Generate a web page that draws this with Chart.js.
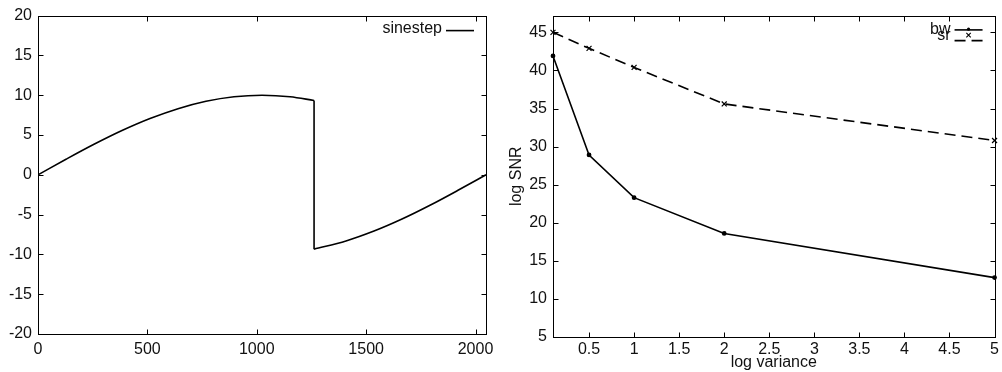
<!DOCTYPE html>
<html>
<head>
<meta charset="utf-8">
<script src="https://cdn.jsdelivr.net/npm/chart.js@4.4.1/dist/chart.umd.min.js"></script>
<style>
  body { margin: 0; background: #fff; }
  #wrap { position: relative; width: 1002px; height: 372px; }
  canvas { position: absolute; top: 0; }
</style>
</head>
<body>
<div id="wrap">
  <canvas id="sineChart" width="500" height="372" style="left:0"></canvas>
  <canvas id="snrChart" width="502" height="372" style="left:500px"></canvas>
</div>
<script>
// left panel - sinestep, split at the step
const riseX = [0, 128, 256, 384, 512, 640, 768, 896, 1024, 1152, 1262];
const riseY = [0, 1.95, 3.83, 5.56, 7.07, 8.31, 9.24, 9.81, 10.0, 9.81, 9.34];
const stepX = [1262, 1262];
const stepY = [9.34, -9.34];
const fallX = [1262, 1408, 1536, 1664, 1792, 1920, 2048];
const fallY = [-9.34, -8.31, -7.07, -5.56, -3.83, -1.95, 0];
const sineXTicks = [0, 500, 1000, 1500, 2000];
const sineYTicks = [-20, -15, -10, -5, 0, 5, 10, 15, 20];

// right panel - log SNR vs log variance
const variance = [0.1, 0.5, 1, 2, 5];
const bwSNR = [41.9, 28.9, 23.3, 18.6, 12.8];
const srSNR = [45.0, 42.9, 40.4, 35.6, 30.8];
const varTicks = [0.5, 1, 1.5, 2, 2.5, 3, 3.5, 4, 4.5, 5];
const snrTicks = [5, 10, 15, 20, 25, 30, 35, 40, 45];

Chart.defaults.font.family = "'Liberation Sans', Arial, sans-serif";
Chart.defaults.font.size = 16;
Chart.defaults.color = "#111";
Chart.defaults.animation = false;

const toPoints = (xs, ys) => xs.map((x, i) => ({ x: x, y: ys[i] }));
const setTicks = vals => axis => { axis.ticks = vals.map(v => ({ value: v })); };

// gnuplot look: box, inward ticks on all sides, legend at top right
const gnuFrame = {
  id: "gnuFrame",
  afterDraw(chart, args, opts) {
    const ctx = chart.ctx;
    const a = chart.chartArea;
    const xs = chart.scales.x, ys = chart.scales.y;
    const L = Math.round(a.left) + 0.5, R = Math.round(a.right) + 0.5;
    const T = Math.round(a.top) + 0.5, B = Math.round(a.bottom) + 0.5;
    ctx.save();
    ctx.strokeStyle = "#000";
    ctx.lineWidth = 1;
    ctx.setLineDash([]);
    ctx.strokeRect(L, T, R - L, B - T);
    const tl = 5;
    ctx.beginPath();
    opts.xTicks.forEach(v => {
      const px = Math.round(xs.getPixelForValue(v)) + 0.5;
      ctx.moveTo(px, B); ctx.lineTo(px, B - tl);
      ctx.moveTo(px, T); ctx.lineTo(px, T + tl);
    });
    opts.yTicks.forEach(v => {
      const py = Math.round(ys.getPixelForValue(v)) + 0.5;
      ctx.moveTo(L, py); ctx.lineTo(L + tl, py);
      ctx.moveTo(R, py); ctx.lineTo(R - tl, py);
    });
    ctx.stroke();

    // legend
    ctx.font = "16px 'Liberation Sans', Arial, sans-serif";
    ctx.textAlign = "right";
    ctx.textBaseline = "alphabetic";
    chart.data.datasets.filter(ds => ds.label).forEach((ds, i) => {
      const e = opts.entries[i];
      const x0 = a.right - 40, x1 = a.right - 12;
      ctx.fillStyle = "#111";
      ctx.fillText(ds.label, a.right - 44, a.top + e.text);
      ctx.strokeStyle = ds.borderColor;
      ctx.lineWidth = ds.borderWidth;
      ctx.setLineDash(ds.borderDash || []);
      ctx.beginPath();
      ctx.moveTo(x0, a.top + e.line);
      ctx.lineTo(x1, a.top + e.line);
      ctx.stroke();
      ctx.setLineDash([]);
      const mx = (x0 + x1) / 2, my = a.top + e.mark;
      if (ds.pointStyle === "circle" && ds.pointRadius > 0) {
        ctx.fillStyle = ds.borderColor;
        ctx.beginPath(); ctx.arc(mx, my, ds.pointRadius, 0, Math.PI * 2); ctx.fill();
      } else if (ds.pointStyle === "crossRot") {
        const r = 2.2;
        ctx.lineWidth = 1.1;
        ctx.beginPath();
        ctx.moveTo(mx - r, my - r); ctx.lineTo(mx + r, my + r);
        ctx.moveTo(mx - r, my + r); ctx.lineTo(mx + r, my - r);
        ctx.stroke();
      }
    });
    ctx.restore();
  }
};

function axisOpts(min, max, tickVals, fitSize, pad, title) {
  return {
    type: "linear",
    min: min,
    max: max,
    grid: { display: false, drawTicks: false },
    border: { display: false },
    ticks: { padding: pad, color: "#111", callback: v => String(v) },
    afterBuildTicks: setTicks(tickVals),
    afterFit: s => { if (s.isHorizontal()) s.height = fitSize; else s.width = fitSize; },
    title: title
  };
}

const sineStyle = {
  showLine: true,
  borderColor: "#000",
  borderWidth: 1.6,
  pointRadius: 0,
  cubicInterpolationMode: "monotone"
};

new Chart(document.getElementById("sineChart"), {
  type: "scatter",
  data: {
    datasets: [
      Object.assign({ label: "sinestep", data: toPoints(riseX, riseY) }, sineStyle),
      Object.assign({ label: "", data: toPoints(stepX, stepY) }, sineStyle, { cubicInterpolationMode: "default", tension: 0 }),
      Object.assign({ label: "", data: toPoints(fallX, fallY) }, sineStyle)
    ]
  },
  options: {
    responsive: false,
    devicePixelRatio: 1,
    layout: { padding: { top: 15, right: 14, left: 0, bottom: 0 } },
    scales: {
      x: axisOpts(0, 2048, sineXTicks, 38, 6),
      y: axisOpts(-20, 20, sineYTicks, 38, 6)
    },
    plugins: {
      legend: { display: false },
      tooltip: { enabled: false },
      gnuFrame: { xTicks: sineXTicks, yTicks: sineYTicks, entries: [{ text: 17.7, line: 15, mark: 15 }] }
    }
  },
  plugins: [gnuFrame]
});

new Chart(document.getElementById("snrChart"), {
  type: "scatter",
  data: {
    datasets: [{
      label: "bw",
      data: toPoints(variance, bwSNR),
      showLine: true,
      borderColor: "#000",
      backgroundColor: "#000",
      borderWidth: 1.6,
      pointStyle: "circle",
      pointRadius: 1.6,
      clip: 6
    }, {
      label: "sr",
      data: toPoints(variance, srSNR),
      showLine: true,
      borderColor: "#000",
      backgroundColor: "#000",
      borderWidth: 1.6,
      borderDash: [11, 6],
      pointStyle: "crossRot",
      pointRadius: 3.5,
      pointBorderWidth: 1.2,
      clip: 6
    }]
  },
  options: {
    responsive: false,
    devicePixelRatio: 1,
    layout: { padding: { top: 15, right: 5, left: 0, bottom: 0 } },
    scales: {
      x: axisOpts(0.1, 5, varTicks, 35, 3,
        { display: true, text: "log variance", color: "#111", padding: { top: 0, bottom: 0 } }),
      y: axisOpts(5, 47.2, snrTicks, 53, 6,
        { display: true, text: "log SNR", color: "#111", padding: { top: 7, bottom: 0 } })
    },
    plugins: {
      legend: { display: false },
      tooltip: { enabled: false },
      gnuFrame: { xTicks: varTicks, yTicks: snrTicks, entries: [{ text: 18.3, line: 14.3, mark: 13.6 }, { text: 24.8, line: 25, mark: 19.5 }] }
    }
  },
  plugins: [gnuFrame]
});
</script>
</body>
</html>
